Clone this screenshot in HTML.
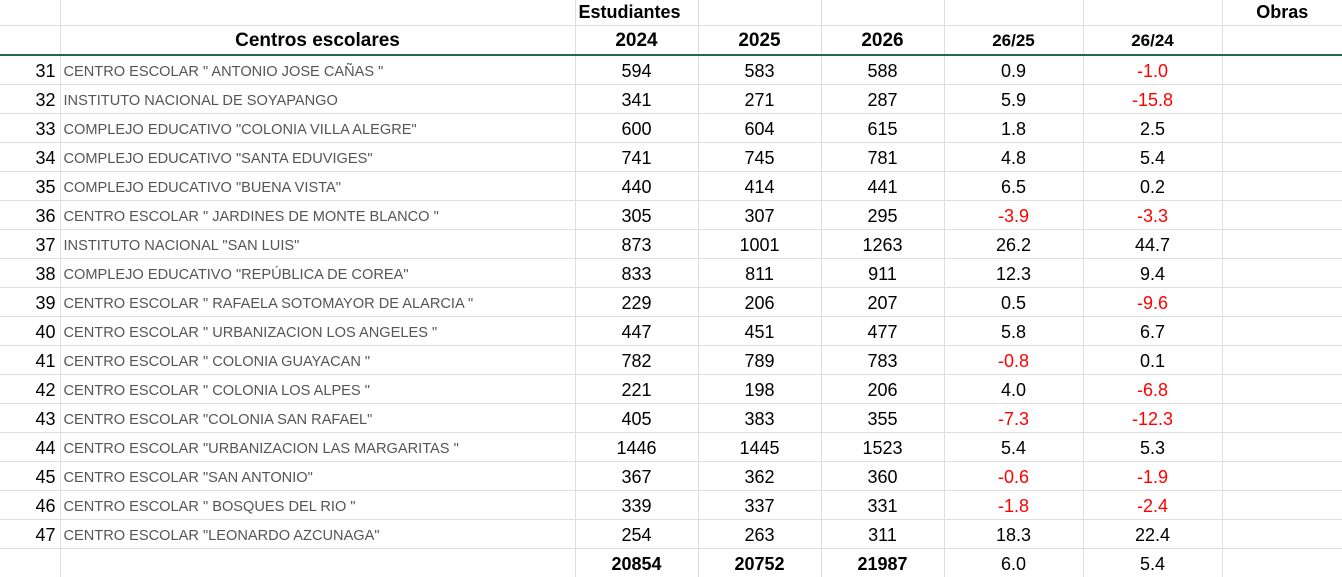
<!DOCTYPE html>
<html><head><meta charset="utf-8"><style>
html,body{margin:0;padding:0;background:#fff;width:1342px;height:577px;overflow:hidden}
table{border-collapse:collapse;table-layout:fixed;width:1342px;font-family:"Liberation Sans",Arial,sans-serif}
td{border:1px solid #dedede;padding:2px 0 0 0;height:26px;line-height:26px;font-size:18px;color:#000;text-align:center;white-space:nowrap;overflow:hidden;vertical-align:middle}
tr.h1 td{height:24px;padding:0;border-top:none;font-weight:bold;font-size:18px;line-height:25px}
tr.h2 td{height:27px;padding:1px 0 0 0;line-height:27px;border-bottom:2px solid #1e6b45;font-weight:bold;font-size:19px}
tr.h2 td.s{font-size:17px}
td.n{text-align:right;padding-right:4px;font-size:18px}
td.nm{text-align:left;padding-left:3px;font-size:14.6px;color:#555}
td.nm span{position:relative;top:1px}
td.p{font-size:18px}
.r{color:#f00}
tr.t td{font-weight:bold}
td:first-child{border-left:none}td:last-child{border-right:none}
</style></head><body>
<table>
<colgroup><col style="width:60px"><col style="width:515px"><col style="width:123px"><col style="width:123px"><col style="width:123px"><col style="width:139px"><col style="width:139px"><col style="width:120px"></colgroup>
<tr class="h1"><td></td><td></td><td style="text-align:left;padding-left:3px">Estudiantes</td><td></td><td></td><td></td><td></td><td>Obras</td></tr>
<tr class="h2"><td></td><td>Centros escolares</td><td>2024</td><td>2025</td><td>2026</td><td class="s">26/25</td><td class="s">26/24</td><td></td></tr>
<tr><td class="n">31</td><td class="nm"><span>CENTRO ESCOLAR " ANTONIO JOSE CAÑAS "</span></td><td>594</td><td>583</td><td>588</td><td class="p">0.9</td><td class="p r">-1.0</td><td></td></tr>
<tr><td class="n">32</td><td class="nm"><span>INSTITUTO NACIONAL DE SOYAPANGO</span></td><td>341</td><td>271</td><td>287</td><td class="p">5.9</td><td class="p r">-15.8</td><td></td></tr>
<tr><td class="n">33</td><td class="nm"><span>COMPLEJO EDUCATIVO "COLONIA VILLA ALEGRE"</span></td><td>600</td><td>604</td><td>615</td><td class="p">1.8</td><td class="p">2.5</td><td></td></tr>
<tr><td class="n">34</td><td class="nm"><span>COMPLEJO EDUCATIVO "SANTA EDUVIGES"</span></td><td>741</td><td>745</td><td>781</td><td class="p">4.8</td><td class="p">5.4</td><td></td></tr>
<tr><td class="n">35</td><td class="nm"><span>COMPLEJO EDUCATIVO "BUENA VISTA"</span></td><td>440</td><td>414</td><td>441</td><td class="p">6.5</td><td class="p">0.2</td><td></td></tr>
<tr><td class="n">36</td><td class="nm"><span>CENTRO ESCOLAR " JARDINES DE MONTE BLANCO "</span></td><td>305</td><td>307</td><td>295</td><td class="p r">-3.9</td><td class="p r">-3.3</td><td></td></tr>
<tr><td class="n">37</td><td class="nm"><span>INSTITUTO NACIONAL "SAN LUIS"</span></td><td>873</td><td>1001</td><td>1263</td><td class="p">26.2</td><td class="p">44.7</td><td></td></tr>
<tr><td class="n">38</td><td class="nm"><span>COMPLEJO EDUCATIVO "REPÚBLICA DE COREA"</span></td><td>833</td><td>811</td><td>911</td><td class="p">12.3</td><td class="p">9.4</td><td></td></tr>
<tr><td class="n">39</td><td class="nm"><span>CENTRO ESCOLAR " RAFAELA SOTOMAYOR DE ALARCIA "</span></td><td>229</td><td>206</td><td>207</td><td class="p">0.5</td><td class="p r">-9.6</td><td></td></tr>
<tr><td class="n">40</td><td class="nm"><span>CENTRO ESCOLAR " URBANIZACION LOS ANGELES "</span></td><td>447</td><td>451</td><td>477</td><td class="p">5.8</td><td class="p">6.7</td><td></td></tr>
<tr><td class="n">41</td><td class="nm"><span>CENTRO ESCOLAR " COLONIA GUAYACAN "</span></td><td>782</td><td>789</td><td>783</td><td class="p r">-0.8</td><td class="p">0.1</td><td></td></tr>
<tr><td class="n">42</td><td class="nm"><span>CENTRO ESCOLAR " COLONIA LOS ALPES "</span></td><td>221</td><td>198</td><td>206</td><td class="p">4.0</td><td class="p r">-6.8</td><td></td></tr>
<tr><td class="n">43</td><td class="nm"><span>CENTRO ESCOLAR "COLONIA SAN RAFAEL"</span></td><td>405</td><td>383</td><td>355</td><td class="p r">-7.3</td><td class="p r">-12.3</td><td></td></tr>
<tr><td class="n">44</td><td class="nm"><span>CENTRO ESCOLAR "URBANIZACION LAS MARGARITAS "</span></td><td>1446</td><td>1445</td><td>1523</td><td class="p">5.4</td><td class="p">5.3</td><td></td></tr>
<tr><td class="n">45</td><td class="nm"><span>CENTRO ESCOLAR "SAN ANTONIO"</span></td><td>367</td><td>362</td><td>360</td><td class="p r">-0.6</td><td class="p r">-1.9</td><td></td></tr>
<tr><td class="n">46</td><td class="nm"><span>CENTRO ESCOLAR " BOSQUES DEL RIO "</span></td><td>339</td><td>337</td><td>331</td><td class="p r">-1.8</td><td class="p r">-2.4</td><td></td></tr>
<tr><td class="n">47</td><td class="nm"><span>CENTRO ESCOLAR "LEONARDO AZCUNAGA"</span></td><td>254</td><td>263</td><td>311</td><td class="p">18.3</td><td class="p">22.4</td><td></td></tr>
<tr class="t"><td></td><td></td><td>20854</td><td>20752</td><td>21987</td><td class="p" style="font-weight:normal">6.0</td><td class="p" style="font-weight:normal">5.4</td><td></td></tr>
</table>
</body></html>
